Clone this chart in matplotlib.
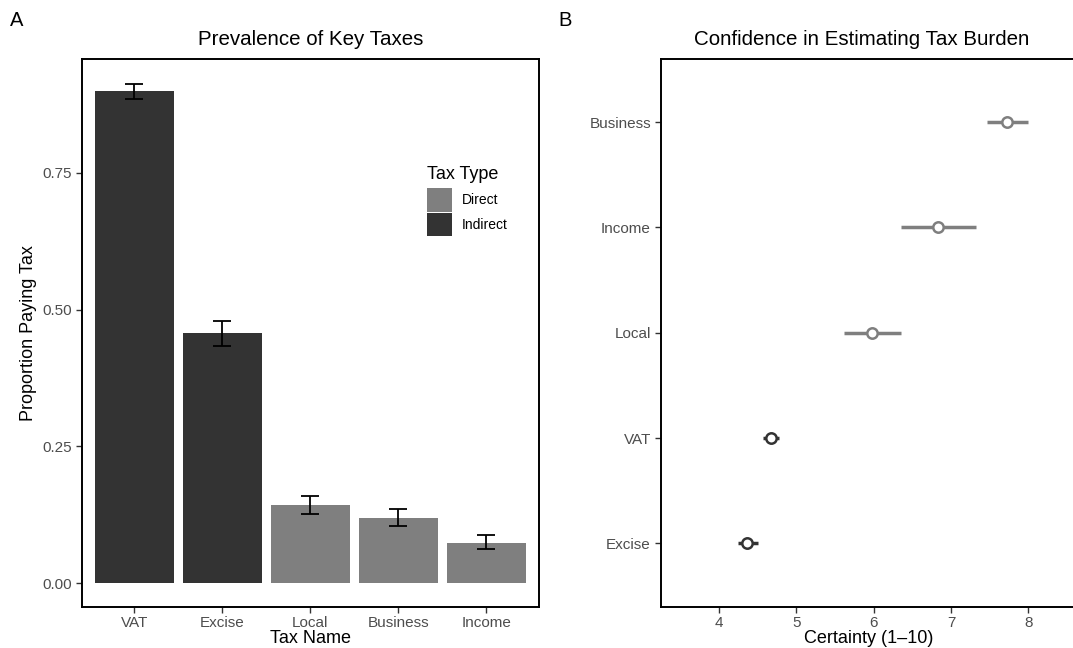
import numpy as np
import matplotlib.pyplot as plt
from matplotlib.patches import Patch

plt.rcParams['font.family'] = ['Liberation Sans', 'DejaVu Sans']

# panel A: prevalence
tax_names = ['VAT', 'Excise', 'Local', 'Business', 'Income']
tax_types = ['Indirect', 'Indirect', 'Direct', 'Direct', 'Direct']
prop_paying = [0.899, 0.457, 0.142, 0.120, 0.074]
prop_lo = [0.885, 0.433, 0.126, 0.105, 0.063]
prop_hi = [0.913, 0.480, 0.159, 0.136, 0.088]

# panel B: confidence (bottom to top)
conf_names = ['Excise', 'VAT', 'Local', 'Income', 'Business']
conf_types = ['Indirect', 'Indirect', 'Direct', 'Direct', 'Direct']
certainty = [4.37, 4.67, 5.98, 6.83, 7.72]
cert_lo = [4.25, 4.57, 5.62, 6.35, 7.46]
cert_hi = [4.51, 4.78, 6.36, 7.32, 8.00]

colors = {'Direct': '#7f7f7f', 'Indirect': '#333333'}
tick_col = '#4d4d4d'

fig = plt.figure(figsize=(10.73, 6.48), dpi=100)
W, H = 1073, 648
axA = fig.add_axes([81.7 / W, (H - 606.5) / H, (539 - 81.7) / W, (606.5 - 59) / H])
axB = fig.add_axes([660.7 / W, (H - 606.5) / H, (1076 - 660.7) / W, (606.5 - 59) / H])

# ---- A
x = np.arange(1, len(tax_names) + 1)
axA.bar(x, prop_paying, width=0.9, color=[colors[t] for t in tax_types], zorder=2)
yerr = [np.array(prop_paying) - np.array(prop_lo), np.array(prop_hi) - np.array(prop_paying)]
axA.errorbar(x, prop_paying, yerr=yerr, fmt='none', ecolor='black', elinewidth=1.3,
             capsize=6.5, capthick=1.3, zorder=3)
axA.set_xlim(0.4, 5.6)
axA.set_ylim(-0.0426, 0.958)
axA.set_xticks(x)
axA.set_xticklabels(tax_names)
axA.set_yticks([0, 0.25, 0.5, 0.75])
axA.set_yticklabels(['0.00', '0.25', '0.50', '0.75'])
axA.set_xlabel('Tax Name', fontsize=13, labelpad=0)
axA.set_ylabel('Proportion Paying Tax', fontsize=13, labelpad=4)
axA.set_title('Prevalence of Key Taxes', fontsize=14.8, pad=10)

handles = [Patch(facecolor=colors['Direct']), Patch(facecolor=colors['Indirect'])]
leg = axA.legend(handles, ['Direct', 'Indirect'], title='Tax Type', frameon=False,
                 loc='upper left', bbox_to_anchor=(0.755, 0.805), fontsize=10,
                 title_fontsize=13, handlelength=1.78, handleheight=2.25,
                 handletextpad=0.75, labelspacing=0.05, borderaxespad=0,
                 borderpad=0)
leg._legend_box.align = 'left'
leg._legend_box.sep = 4

# ---- B
y = np.arange(1, len(conf_names) + 1)
for yi, c, lo, hi, t in zip(y, certainty, cert_lo, cert_hi, conf_types):
    axB.plot([lo, hi], [yi, yi], color=colors[t], lw=2.5, solid_capstyle='butt', zorder=2)
    axB.plot(c, yi, 'o', ms=7.5, mfc='white', mec=colors[t], mew=1.8, zorder=3)
axB.set_ylim(0.4, 5.6)
axB.set_xlim(3.25, 3.25 + (1076 - 660.7) / 77.4)
axB.set_yticks(y)
axB.set_yticklabels(conf_names)
axB.set_xticks([4, 5, 6, 7, 8])
axB.set_xlabel('Certainty (1\u201310)', fontsize=13, labelpad=0)
axB.set_title('Confidence in Estimating Tax Burden', fontsize=14.8, pad=10, x=0.485)

for ax in (axA, axB):
    for s in ax.spines.values():
        s.set_linewidth(1.4)
        s.set_color('black')
    ax.tick_params(axis='both', length=4, width=1, color='#333333',
                   labelcolor=tick_col, labelsize=11, pad=3)

fig.text(10 / W, 1 - 21 / H, 'A', fontsize=14.5, va='center', ha='left')
fig.text(558 / W, 1 - 21 / H, 'B', fontsize=14.5, va='center', ha='left')

fig.savefig('out.png', dpi=100)
